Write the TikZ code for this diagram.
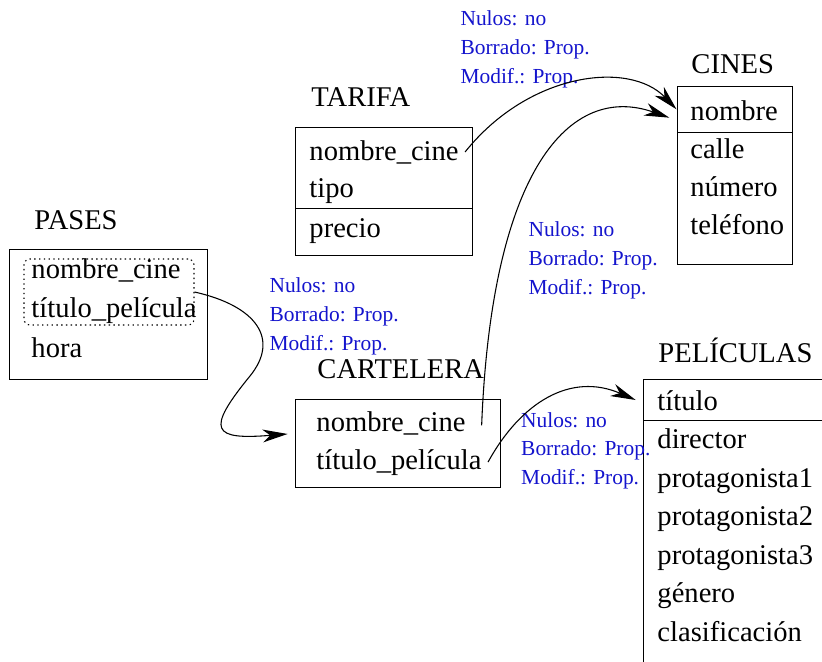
\documentclass[tikz,border=0pt]{standalone}
\usepackage{fontspec}
\setmainfont{Liberation Serif}
\usepackage{tikz}
\usetikzlibrary{arrows.meta,positioning,fit}
\definecolor{azul}{RGB}{20,20,205}
\tikzset{font=\fontsize{12}{14}\selectfont}
\tikzstyle{campo}=[anchor=base west,inner xsep=2.5pt,inner ysep=1pt]
\tikzstyle{seccion}=[draw,inner sep=0pt,line width=0.4pt]
\tikzstyle{clave}=[draw,inner sep=0pt,rounded corners=2.5pt,dash pattern=on 0.6pt off 1.4pt]
\tikzstyle{regla}=[text=azul,anchor=north west,inner sep=0pt,align=left,font=\fontsize{9}{12}\selectfont]

\begin{document}
\begin{tikzpicture}[x=0.42pt,y=-0.42pt,line width=0.45pt,>={Stealth[length=10.5pt,width=5.4pt,inset=3.2pt]}]
\clip (0,0) rectangle (822,662);
% TARIFA
\node[campo] (TA) at (305,106) {TARIFA};
\node[seccion,fit={(295,127) (472.7,208.3)}] (TAk) {};
\node[seccion,fit={(295,208.3) (472.7,255.7)}] (TAn) {};
\node[campo] (TA1) at (303,160) {nombre\_cine};
\node[campo] (TA2) at (303,197) {tipo};
\node[campo] (TA3) at (303,237) {precio};
% CINES
\node[campo] (CI) at (685,73) {CINES};
\node[seccion,fit={(677,86.7) (792.3,132)}] (CIk) {};
\node[seccion,fit={(677,132) (792.3,264)}] (CIn) {};
\node[campo] (CI1) at (684,120) {nombre};
\node[campo] (CI2) at (684,158) {calle};
\node[campo] (CI3) at (684,196) {número};
\node[campo] (CI4) at (684,234) {teléfono};
% PASES
\node[campo] (PA) at (28,229) {PASES};
\node[seccion,fit={(9.3,249.3) (207.3,379)}] (PAb) {};
\node[clave,fit={(24,259) (194,325)}] (PAk) {};
\node[campo] (PA1) at (25,278) {nombre\_cine};
\node[campo] (PA2) at (25,317) {título\_película};
\node[campo] (PA3) at (25,357) {hora};
% CARTELERA
\node[campo] (CA) at (311,378) {CARTELERA};
\node[seccion,fit={(295.7,399.3) (500,487.7)}] (CAb) {};
\node[campo] (CA1) at (310,431) {nombre\_cine};
\node[campo] (CA2) at (310,469) {título\_película};
% PELICULAS
\node[campo] (PE) at (652,362) {PELÍCULAS};
\node[seccion,fit={(643.3,379.3) (860,420.7)}] (PEk) {};
\node[seccion,fit={(643.3,420.7) (860,700)}] (PEn) {};
\node[campo] (PE1) at (651,410) {título};
\node[campo] (PE2) at (651,448.5) {director};
\node[campo] (PE3) at (651,487) {protagonista1};
\node[campo] (PE4) at (651,525.5) {protagonista2};
\node[campo] (PE5) at (651,564) {protagonista3};
\node[campo] (PE6) at (651,602.5) {género};
\node[campo] (PE7) at (651,641) {clasificación};
% reglas
\node[regla] (R1) at (460,10.5) {Nulos: no\\Borrado: Prop.\\Modif.: Prop.};
\node[regla] (R2) at (528,221.5) {Nulos: no\\Borrado: Prop.\\Modif.: Prop.};
\node[regla] (R3) at (269,277.5) {Nulos: no\\Borrado: Prop.\\Modif.: Prop.};
\node[regla] (R4) at (520.7,412) {Nulos: no\\Borrado: Prop.\\Modif.: Prop.};
% flechas
\coordinate (codo) at (250,376);
\draw[->] (TA1.east) .. controls +(64,-80) and +(-47,-49) .. (CIk.west);
\draw[->] ([xshift=4pt,yshift=-1pt]CA1.east) .. controls +(10,-255) and +(-100,-35) .. ([xshift=-3pt,yshift=-3.5pt]CIk.west);
\draw[->] (PAk.east) .. controls +(62,14) and +(30,-37) .. (codo)
  .. controls +(-45,55) and +(-75,6) .. ([xshift=-3.2pt,yshift=4pt]CAb.west);
\draw[->] (CA2.east) .. controls +(33,-60) and +(-65,-28) .. ([xshift=-3pt]PEk.west);
\end{tikzpicture}
\end{document}
